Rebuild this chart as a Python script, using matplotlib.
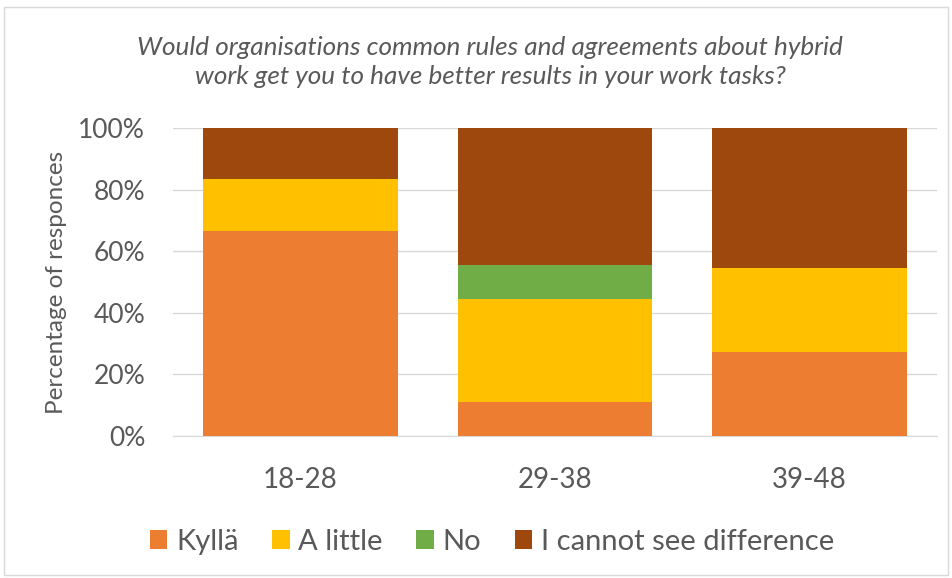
import numpy as np
import matplotlib.pyplot as plt
from matplotlib.patches import Rectangle

plt.rcParams['font.family'] = ['Lato', 'DejaVu Sans']

# age groups and share of answers per group
groups = ['18-28', '29-38', '39-48']
kylla = [66.7, 11.1, 27.3]
a_little = [16.7, 33.3, 27.3]
no = [0.0, 11.1, 0.0]
cannot_see = [16.6, 44.5, 45.4]

series = [
    ('Kyllä', kylla, '#ED7D31'),
    ('A little', a_little, '#FFC000'),
    ('No', no, '#70AD47'),
    ('I cannot see difference', cannot_see, '#9E480E'),
]

text_col = '#595959'

fig = plt.figure(figsize=(9.52, 5.78), dpi=100)
ax = fig.add_axes([173 / 952, 1 - 436 / 578, (937 - 173) / 952, (436 - 128) / 578])

x = np.arange(len(groups))
bottom = np.zeros(len(groups))
for name, vals, col in series:
    vals = np.array(vals)
    ax.bar(x, vals, 0.765, bottom=bottom, color=col, label=name, zorder=3)
    bottom += vals

ax.set_xlim(-0.5, len(groups) - 0.5)
ax.set_ylim(0, 100)
ax.set_yticks(np.arange(0, 101, 20))
ax.set_yticklabels([f'{v}%' for v in range(0, 101, 20)])
ax.set_xticks(x)
ax.set_xticklabels(groups)
ax.grid(axis='y', color='#D9D9D9', linewidth=1, zorder=0)
for s in ['top', 'right', 'left']:
    ax.spines[s].set_visible(False)
ax.spines['bottom'].set_color('#D9D9D9')
ax.tick_params(length=0, colors=text_col)
ax.tick_params(axis='y', pad=20, labelsize=19)
ax.tick_params(axis='x', pad=22, labelsize=20)
ax.set_ylabel('Percentage of responces', fontsize=17.5, color=text_col, labelpad=8)

fig.text(490 / 952, 1 - 62 / 578,
         'Would organisations common rules and agreements about hybrid\n'
         'work get you to have better results in your work tasks?',
         ha='center', va='center', fontsize=18.8, style='italic', color=text_col,
         linespacing=1.28)

fig.legend(*ax.get_legend_handles_labels(), loc='center',
           bbox_to_anchor=(492 / 952, 1 - 542 / 578), ncol=4, frameon=False,
           fontsize=21, labelcolor=text_col, handlelength=0.6, handleheight=0.6,
           handletextpad=0.3, columnspacing=1.15)

fig.patches.append(Rectangle((4 / 952, 3 / 578), 944 / 952, 568 / 578,
                             transform=fig.transFigure, fill=False,
                             edgecolor='#D9D9D9', linewidth=1))

fig.savefig('out.png', dpi=100)
